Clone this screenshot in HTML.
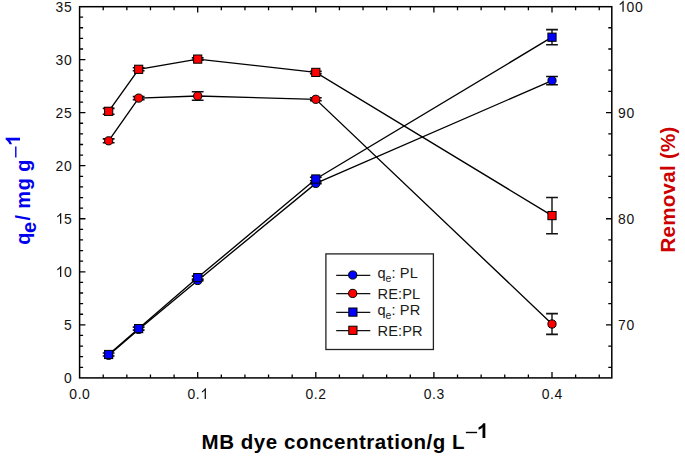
<!DOCTYPE html><html><head><meta charset="utf-8"><style>html,body{margin:0;padding:0;background:#fff;}svg{display:block;}text{font-family:"Liberation Sans",sans-serif;}</style></head><body>
<svg width="685" height="458" viewBox="0 0 685 458">
<path d="M103.22 377.90V374.40M103.22 6.70V10.20M126.84 377.90V374.40M126.84 6.70V10.20M150.46 377.90V374.40M150.46 6.70V10.20M174.08 377.90V374.40M174.08 6.70V10.20M197.70 377.90V372.10M197.70 6.70V12.50M221.32 377.90V374.40M221.32 6.70V10.20M244.94 377.90V374.40M244.94 6.70V10.20M268.56 377.90V374.40M268.56 6.70V10.20M292.18 377.90V374.40M292.18 6.70V10.20M315.80 377.90V372.10M315.80 6.70V12.50M339.42 377.90V374.40M339.42 6.70V10.20M363.04 377.90V374.40M363.04 6.70V10.20M386.66 377.90V374.40M386.66 6.70V10.20M410.28 377.90V374.40M410.28 6.70V10.20M433.90 377.90V372.10M433.90 6.70V12.50M457.52 377.90V374.40M457.52 6.70V10.20M481.14 377.90V374.40M481.14 6.70V10.20M504.76 377.90V374.40M504.76 6.70V10.20M528.38 377.90V374.40M528.38 6.70V10.20M552.00 377.90V372.10M552.00 6.70V12.50M575.62 377.90V374.40M575.62 6.70V10.20M599.24 377.90V374.40M599.24 6.70V10.20M79.60 367.29H83.10M79.60 356.68H83.10M79.60 346.07H83.10M79.60 335.46H83.10M79.60 324.85H85.40M79.60 314.24H83.10M79.60 303.63H83.10M79.60 293.02H83.10M79.60 282.41H83.10M79.60 271.80H85.40M79.60 261.19H83.10M79.60 250.58H83.10M79.60 239.97H83.10M79.60 229.36H83.10M79.60 218.75H85.40M79.60 208.14H83.10M79.60 197.53H83.10M79.60 186.92H83.10M79.60 176.31H83.10M79.60 165.70H85.40M79.60 155.09H83.10M79.60 144.48H83.10M79.60 133.87H83.10M79.60 123.26H83.10M79.60 112.65H85.40M79.60 102.04H83.10M79.60 91.43H83.10M79.60 80.82H83.10M79.60 70.21H83.10M79.60 59.60H85.40M79.60 48.99H83.10M79.60 38.38H83.10M79.60 27.77H83.10M79.60 17.16H83.10M611.80 367.29H608.30M611.80 346.07H608.30M611.80 324.85H606.00M611.80 303.63H608.30M611.80 282.41H608.30M611.80 261.19H608.30M611.80 239.97H608.30M611.80 218.75H606.00M611.80 197.53H608.30M611.80 176.31H608.30M611.80 155.09H608.30M611.80 133.87H608.30M611.80 112.65H606.00M611.80 91.43H608.30M611.80 70.21H608.30M611.80 48.99H608.30M611.80 27.77H608.30" stroke="#000" stroke-width="1.3" fill="none"/>
<rect x="79.6" y="6.7" width="532.1999999999999" height="371.2" fill="none" stroke="#000" stroke-width="1.5"/>
<g font-size="15.3" fill="#111"><text transform="translate(64.07,383.00) scale(0.91,1)">0</text><text transform="translate(64.07,329.95) scale(0.91,1)">5</text><text transform="translate(64.07,276.90) scale(0.91,1)">0</text><text transform="translate(64.07,223.85) scale(0.91,1)">5</text><text transform="translate(55.56,170.80) scale(0.91,1)">2</text><text transform="translate(64.07,170.80) scale(0.91,1)">0</text><text transform="translate(55.56,117.75) scale(0.91,1)">2</text><text transform="translate(64.07,117.75) scale(0.91,1)">5</text><text transform="translate(55.56,64.70) scale(0.91,1)">3</text><text transform="translate(64.07,64.70) scale(0.91,1)">0</text><text transform="translate(55.56,11.65) scale(0.91,1)">3</text><text transform="translate(64.07,11.65) scale(0.91,1)">5</text><text transform="translate(617.98,329.95) scale(0.91,1)">7</text><text transform="translate(626.49,329.95) scale(0.91,1)">0</text><text transform="translate(617.98,223.85) scale(0.91,1)">8</text><text transform="translate(626.49,223.85) scale(0.91,1)">0</text><text transform="translate(617.98,117.75) scale(0.91,1)">9</text><text transform="translate(626.49,117.75) scale(0.91,1)">0</text><text transform="translate(626.49,11.65) scale(0.91,1)">0</text><text transform="translate(635.00,11.65) scale(0.91,1)">0</text><text transform="translate(69.35,399.10) scale(0.91,1)">0</text><text transform="translate(77.67,399.10) scale(0.91,1)">.</text><text transform="translate(82.11,399.10) scale(0.91,1)">0</text><text transform="translate(187.45,399.10) scale(0.91,1)">0</text><text transform="translate(195.77,399.10) scale(0.91,1)">.</text><text transform="translate(305.55,399.10) scale(0.91,1)">0</text><text transform="translate(313.87,399.10) scale(0.91,1)">.</text><text transform="translate(318.31,399.10) scale(0.91,1)">2</text><text transform="translate(423.65,399.10) scale(0.91,1)">0</text><text transform="translate(431.97,399.10) scale(0.91,1)">.</text><text transform="translate(436.41,399.10) scale(0.91,1)">3</text><text transform="translate(541.75,399.10) scale(0.91,1)">0</text><text transform="translate(550.07,399.10) scale(0.91,1)">.</text><text transform="translate(554.51,399.10) scale(0.91,1)">4</text></g>
<path d="M61.27 276.90L60.02 276.90L60.02 268.33L59.60 268.79L58.84 269.40L57.93 269.94L57.24 270.24L57.24 269.02L58.21 268.45L59.25 267.57L60.09 266.65L60.47 265.95L61.27 265.95ZM61.27 223.85L60.02 223.85L60.02 215.28L59.60 215.74L58.84 216.35L57.93 216.89L57.24 217.19L57.24 215.97L58.21 215.40L59.25 214.52L60.09 213.60L60.47 212.90L61.27 212.90ZM623.69 11.65L622.44 11.65L622.44 3.08L622.02 3.54L621.25 4.15L620.35 4.69L619.65 4.99L619.65 3.77L620.63 3.20L621.67 2.32L622.51 1.40L622.88 0.70L623.69 0.70ZM205.92 399.10L204.66 399.10L204.66 390.53L204.25 390.99L203.48 391.60L202.58 392.14L201.88 392.44L201.88 391.22L202.85 390.65L203.90 389.77L204.73 388.85L205.11 388.15L205.92 388.15Z" fill="#111"/>
<path d="M108.65 355.30 L138.65 329.40 L197.70 280.50 L315.80 183.40 L552.00 80.60" stroke="#000" stroke-width="1.35" fill="none"/><circle cx="108.65" cy="355.30" r="4.1" fill="#0000ff" stroke="#000" stroke-width="1"/><circle cx="138.65" cy="329.40" r="4.1" fill="#0000ff" stroke="#000" stroke-width="1"/><path d="M197.70 280.20V280.80" stroke="#444" stroke-width="1.8" fill="none"/><path d="M191.80 280.20H203.60M191.80 280.80H203.60" stroke="#111" stroke-width="1.6" fill="none"/><circle cx="197.70" cy="280.50" r="4.1" fill="#0000ff" stroke="#000" stroke-width="1"/><path d="M315.80 183.10V183.70" stroke="#444" stroke-width="1.8" fill="none"/><path d="M309.90 183.10H321.70M309.90 183.70H321.70" stroke="#111" stroke-width="1.6" fill="none"/><circle cx="315.80" cy="183.40" r="4.1" fill="#0000ff" stroke="#000" stroke-width="1"/><path d="M552.00 76.50V84.70" stroke="#444" stroke-width="1.8" fill="none"/><path d="M546.10 76.50H557.90M546.10 84.70H557.90" stroke="#111" stroke-width="1.6" fill="none"/><circle cx="552.00" cy="80.60" r="4.1" fill="#0000ff" stroke="#000" stroke-width="1"/>
<path d="M108.65 140.80 L138.65 98.10 L197.70 96.00 L315.80 99.30 L552.00 324.00" stroke="#000" stroke-width="1.35" fill="none"/><path d="M108.65 138.90V142.70" stroke="#444" stroke-width="1.8" fill="none"/><path d="M102.75 138.90H114.55M102.75 142.70H114.55" stroke="#111" stroke-width="1.6" fill="none"/><circle cx="108.65" cy="140.80" r="4.1" fill="#ff0000" stroke="#000" stroke-width="1"/><path d="M138.65 96.60V99.60" stroke="#444" stroke-width="1.8" fill="none"/><path d="M132.75 96.60H144.55M132.75 99.60H144.55" stroke="#111" stroke-width="1.6" fill="none"/><circle cx="138.65" cy="98.10" r="4.1" fill="#ff0000" stroke="#000" stroke-width="1"/><path d="M197.70 91.80V100.20" stroke="#444" stroke-width="1.8" fill="none"/><path d="M191.80 91.80H203.60M191.80 100.20H203.60" stroke="#111" stroke-width="1.6" fill="none"/><circle cx="197.70" cy="96.00" r="4.1" fill="#ff0000" stroke="#000" stroke-width="1"/><path d="M315.80 97.80V100.80" stroke="#444" stroke-width="1.8" fill="none"/><path d="M309.90 97.80H321.70M309.90 100.80H321.70" stroke="#111" stroke-width="1.6" fill="none"/><circle cx="315.80" cy="99.30" r="4.1" fill="#ff0000" stroke="#000" stroke-width="1"/><path d="M552.00 313.60V334.40" stroke="#444" stroke-width="1.8" fill="none"/><path d="M546.10 313.60H557.90M546.10 334.40H557.90" stroke="#111" stroke-width="1.6" fill="none"/><circle cx="552.00" cy="324.00" r="4.1" fill="#ff0000" stroke="#000" stroke-width="1"/>
<path d="M108.65 354.50 L138.65 328.60 L197.70 277.60 L315.80 179.00 L552.00 37.20" stroke="#000" stroke-width="1.35" fill="none"/><path d="M108.65 353.00V356.00" stroke="#444" stroke-width="1.8" fill="none"/><path d="M102.75 353.00H114.55M102.75 356.00H114.55" stroke="#111" stroke-width="1.6" fill="none"/><rect x="104.55" y="350.40" width="8.2" height="8.2" fill="#0000ff" stroke="#000" stroke-width="1"/><path d="M138.65 327.10V330.10" stroke="#444" stroke-width="1.8" fill="none"/><path d="M132.75 327.10H144.55M132.75 330.10H144.55" stroke="#111" stroke-width="1.6" fill="none"/><rect x="134.55" y="324.50" width="8.2" height="8.2" fill="#0000ff" stroke="#000" stroke-width="1"/><path d="M197.70 276.10V279.10" stroke="#444" stroke-width="1.8" fill="none"/><path d="M191.80 276.10H203.60M191.80 279.10H203.60" stroke="#111" stroke-width="1.6" fill="none"/><rect x="193.60" y="273.50" width="8.2" height="8.2" fill="#0000ff" stroke="#000" stroke-width="1"/><path d="M315.80 177.20V180.80" stroke="#444" stroke-width="1.8" fill="none"/><path d="M309.90 177.20H321.70M309.90 180.80H321.70" stroke="#111" stroke-width="1.6" fill="none"/><rect x="311.70" y="174.90" width="8.2" height="8.2" fill="#0000ff" stroke="#000" stroke-width="1"/><path d="M552.00 29.60V44.80" stroke="#444" stroke-width="1.8" fill="none"/><path d="M546.10 29.60H557.90M546.10 44.80H557.90" stroke="#111" stroke-width="1.6" fill="none"/><rect x="547.90" y="33.10" width="8.2" height="8.2" fill="#0000ff" stroke="#000" stroke-width="1"/>
<path d="M108.65 111.30 L138.65 69.30 L197.70 59.10 L315.80 72.40 L552.00 215.60" stroke="#000" stroke-width="1.35" fill="none"/><path d="M108.65 108.40V114.20" stroke="#444" stroke-width="1.8" fill="none"/><path d="M102.75 108.40H114.55M102.75 114.20H114.55" stroke="#111" stroke-width="1.6" fill="none"/><rect x="104.55" y="107.20" width="8.2" height="8.2" fill="#ff0000" stroke="#000" stroke-width="1"/><path d="M138.65 67.80V70.80" stroke="#444" stroke-width="1.8" fill="none"/><path d="M132.75 67.80H144.55M132.75 70.80H144.55" stroke="#111" stroke-width="1.6" fill="none"/><rect x="134.55" y="65.20" width="8.2" height="8.2" fill="#ff0000" stroke="#000" stroke-width="1"/><path d="M197.70 57.90V60.30" stroke="#444" stroke-width="1.8" fill="none"/><path d="M191.80 57.90H203.60M191.80 60.30H203.60" stroke="#111" stroke-width="1.6" fill="none"/><rect x="193.60" y="55.00" width="8.2" height="8.2" fill="#ff0000" stroke="#000" stroke-width="1"/><path d="M315.80 71.20V73.60" stroke="#444" stroke-width="1.8" fill="none"/><path d="M309.90 71.20H321.70M309.90 73.60H321.70" stroke="#111" stroke-width="1.6" fill="none"/><rect x="311.70" y="68.30" width="8.2" height="8.2" fill="#ff0000" stroke="#000" stroke-width="1"/><path d="M552.00 197.50V233.70" stroke="#444" stroke-width="1.8" fill="none"/><path d="M546.10 197.50H557.90M546.10 233.70H557.90" stroke="#111" stroke-width="1.6" fill="none"/><rect x="547.90" y="211.50" width="8.2" height="8.2" fill="#ff0000" stroke="#000" stroke-width="1"/>
<rect x="325.9" y="253.9" width="107.5" height="95.6" fill="#fff" stroke="#222" stroke-width="1.3"/>
<path d="M336.2 275.30H370.3" stroke="#111" stroke-width="1.2"/>
<circle cx="352.7" cy="275.0" r="4.1" fill="#0000ff" stroke="#000" stroke-width="1"/>
<text x="377.4" y="278.30" font-size="14.6" fill="#1a1a1a" letter-spacing="0.1">q<tspan font-size="10.5" dy="3.8">e</tspan><tspan dy="-3.8">: PL</tspan></text>
<path d="M336.2 293.70H370.3" stroke="#111" stroke-width="1.2"/>
<circle cx="352.7" cy="293.4" r="4.1" fill="#ff0000" stroke="#000" stroke-width="1"/>
<text x="377.6" y="298.70" font-size="14.6" fill="#1a1a1a" letter-spacing="0.1">RE:PL</text>
<path d="M336.2 312.40H370.3" stroke="#111" stroke-width="1.2"/>
<rect x="348.80" y="308.00" width="8.2" height="8.2" fill="#0000ff" stroke="#000" stroke-width="1"/>
<text x="377.4" y="315.40" font-size="14.6" fill="#1a1a1a" letter-spacing="0.1">q<tspan font-size="10.5" dy="3.8">e</tspan><tspan dy="-3.8">: PR</tspan></text>
<path d="M336.2 330.60H370.3" stroke="#111" stroke-width="1.2"/>
<rect x="348.80" y="326.20" width="8.2" height="8.2" fill="#ff0000" stroke="#000" stroke-width="1"/>
<text x="377.6" y="335.60" font-size="14.6" fill="#1a1a1a" letter-spacing="0.1">RE:PR</text>
<text x="201.6" y="449" font-size="20.5" font-weight="bold" fill="#000" letter-spacing="0.54">MB dye concentration/g L</text>
<path d="M465.9 432.5H477.1" stroke="#000" stroke-width="1.4"/>
<path d="M485.33 437.90L482.52 437.90L482.52 427.36L481.33 428.43L479.89 429.19L478.56 429.70L478.56 427.16L480.10 426.42L481.74 425.19L482.87 423.96L483.22 423.22L485.33 423.22Z" fill="#000"/>
<text transform="translate(675.3,252.6) rotate(-90)" font-size="20.5" font-weight="bold" fill="#cc0000" letter-spacing="0.3">Removal (%)</text>
<g font-size="20" font-weight="bold" fill="#0000ee"><text transform="translate(29.80,244.85) rotate(-90)">q</text><text transform="translate(35.80,232.91) rotate(-90)">e</text><text transform="translate(29.80,220.48) rotate(-90)">/</text><text transform="translate(29.80,208.63) rotate(-90)">m</text><text transform="translate(29.80,190.25) rotate(-90)">g</text><text transform="translate(29.80,171.65) rotate(-90)">g</text></g>
<path d="M15.8 146.4V157.5" stroke="#0000ee" stroke-width="1.4"/>
<path d="M20.00 137.70L20.00 140.44L9.72 140.44L10.76 141.60L11.50 143.00L12.00 144.30L9.52 144.30L8.80 142.80L7.60 141.20L6.40 140.10L5.68 139.76L5.68 137.70Z" fill="#0000ee"/>
</svg></body></html>
